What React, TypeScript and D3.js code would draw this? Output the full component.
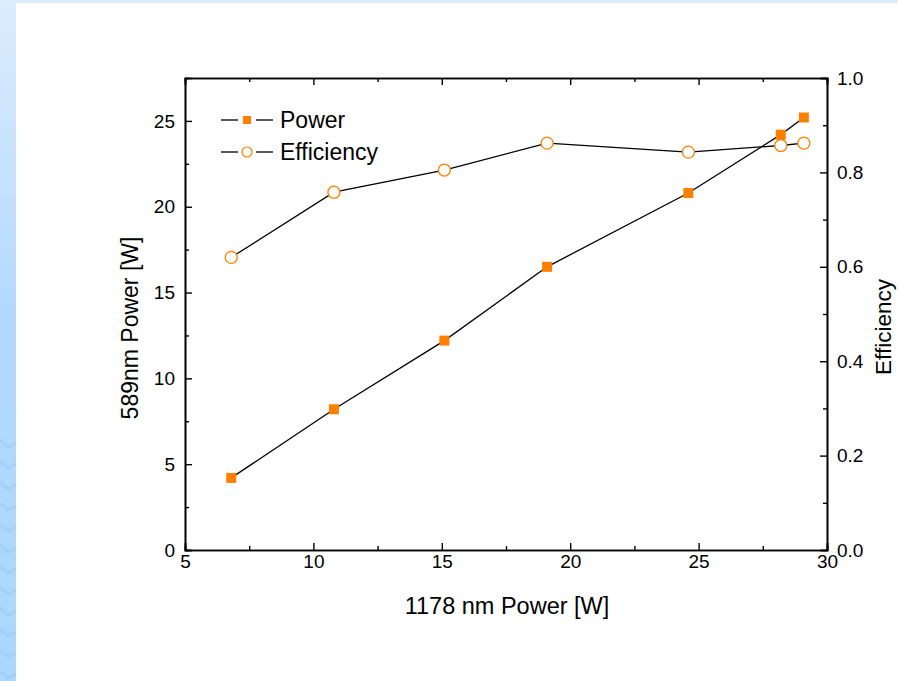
import React, { useRef, useEffect } from 'react';
import * as d3 from 'd3';

const WIDTH = 898;
const HEIGHT = 681;
const FONT = 'Arial, "Liberation Sans", Helvetica, sans-serif';
const ORANGE = '#ff8000';

// 1178 nm pump power [W]
const inputPower = [6.8, 10.8, 15.1, 19.1, 24.6, 28.2, 29.1];
// 589 nm output power [W]
const outputPower = [4.2, 8.2, 12.2, 16.5, 20.8, 24.2, 25.2];
// conversion efficiency
const efficiency = [0.62, 0.758, 0.805, 0.862, 0.843, 0.857, 0.862];

const xMajor = [5, 10, 15, 20, 25, 30];
const xMinor = [7.5, 12.5, 17.5, 22.5, 27.5];
const yMajor = [0, 5, 10, 15, 20, 25];
const yMinor = [2.5, 7.5, 12.5, 17.5, 22.5];
const effMajor = [0, 0.2, 0.4, 0.6, 0.8, 1.0];
const effMinor = [0.1, 0.3, 0.5, 0.7, 0.9];

const margin = { left: 185, right: WIDTH - 827, top: 78, bottom: HEIGHT - 550 };

const App: React.FC = () => {
  const svgRef = useRef<SVGSVGElement>(null);

  useEffect(() => {
    if (!svgRef.current) return;
    const svg = d3.select(svgRef.current);
    svg.selectAll('*').remove();

    const x0 = margin.left;
    const x1 = WIDTH - margin.right;
    const y0 = HEIGHT - margin.bottom;
    const y1 = margin.top;

    const x = d3.scaleLinear().domain([5, 30]).range([x0, x1]);
    const y = d3.scaleLinear().domain([0, 27.5]).range([y0, y1]);
    const yE = d3.scaleLinear().domain([0, 1]).range([y0, y1]);

    // slide background frame
    const defs = svg.append('defs');
    const grad = defs
      .append('linearGradient')
      .attr('id', 'strip')
      .attr('x1', 0)
      .attr('y1', 0)
      .attr('x2', 0)
      .attr('y2', 1);
    grad.append('stop').attr('offset', '0%').attr('stop-color', '#dcecfd');
    grad.append('stop').attr('offset', '45%').attr('stop-color', '#b4d9fd');
    grad.append('stop').attr('offset', '100%').attr('stop-color', '#acd6fe');

    svg.append('rect').attr('width', WIDTH).attr('height', HEIGHT).attr('fill', '#fff');
    svg.append('rect').attr('width', WIDTH).attr('height', 3).attr('fill', '#dcecfd');
    svg.append('rect').attr('width', 16).attr('height', HEIGHT).attr('fill', 'url(#strip)');

    // faint chevron texture in the lower part of the strip
    const chev = svg.append('g').attr('stroke', '#8fbde6').attr('stroke-opacity', 0.3).attr('fill', 'none');
    for (let yy = 440; yy < HEIGHT; yy += 21) {
      chev
        .append('path')
        .attr('d', `M0,${yy} L8,${yy + 7} L16,${yy + 3}`)
        .attr('stroke-width', 3);
    }

    const g = svg.append('g');

    const styleAxis = (sel: d3.Selection<SVGGElement, unknown, null, undefined>) => {
      sel.select('.domain').attr('stroke', '#000').attr('stroke-width', 1.6);
      sel.selectAll('.tick line').attr('stroke', '#000').attr('stroke-width', 1.4);
      sel
        .selectAll('.tick text')
        .attr('fill', '#000')
        .attr('font-size', '19px')
        .attr('font-family', FONT);
      sel.attr('font-family', FONT);
    };

    // bottom
    g.append('g')
      .attr('transform', `translate(0,${y0})`)
      .call(d3.axisBottom(x).tickValues(xMinor).tickSize(-4).tickFormat(() => ''))
      .call(styleAxis);
    g.append('g')
      .attr('transform', `translate(0,${y0})`)
      .call(d3.axisBottom(x).tickValues(xMajor).tickSize(-7).tickPadding(5).tickFormat(d3.format('d')))
      .call(styleAxis);
    // top
    g.append('g')
      .attr('transform', `translate(0,${y1})`)
      .call(d3.axisTop(x).tickValues(xMinor).tickSize(-4).tickFormat(() => ''))
      .call(styleAxis);
    g.append('g')
      .attr('transform', `translate(0,${y1})`)
      .call(d3.axisTop(x).tickValues(xMajor).tickSize(-7).tickFormat(() => ''))
      .call(styleAxis);
    // left
    g.append('g')
      .attr('transform', `translate(${x0},0)`)
      .call(d3.axisLeft(y).tickValues(yMinor).tickSize(-4).tickFormat(() => ''))
      .call(styleAxis);
    g.append('g')
      .attr('transform', `translate(${x0},0)`)
      .call(d3.axisLeft(y).tickValues(yMajor).tickSize(-7).tickPadding(10).tickFormat(d3.format('d')))
      .call(styleAxis);
    // right
    g.append('g')
      .attr('transform', `translate(${x1},0)`)
      .call(d3.axisRight(yE).tickValues(effMinor).tickSize(-4).tickFormat(() => ''))
      .call(styleAxis);
    g.append('g')
      .attr('transform', `translate(${x1},0)`)
      .call(d3.axisRight(yE).tickValues(effMajor).tickSize(-7).tickPadding(10).tickFormat(d3.format('.1f')))
      .call(styleAxis);

    // axis titles
    g.append('text')
      .attr('x', (x0 + x1) / 2 + 1)
      .attr('y', 614)
      .attr('text-anchor', 'middle')
      .attr('font-size', '23.5px')
      .attr('font-family', FONT)
      .text('1178 nm Power [W]');
    g.append('text')
      .attr('transform', 'translate(138,328) rotate(-90)')
      .attr('text-anchor', 'middle')
      .attr('font-size', '23px')
      .attr('font-family', FONT)
      .text('589nm Power [W]');
    g.append('text')
      .attr('transform', 'translate(891,327) rotate(-90)')
      .attr('text-anchor', 'middle')
      .attr('font-size', '22.5px')
      .attr('font-family', FONT)
      .text('Efficiency');

    // lines
    const powerPts = inputPower.map((v, i) => [x(v), y(outputPower[i])] as [number, number]);
    const effPts = inputPower.map((v, i) => [x(v), yE(efficiency[i])] as [number, number]);
    const line = d3.line();

    g.append('path').attr('d', line(powerPts) ?? '').attr('fill', 'none').attr('stroke', '#000').attr('stroke-width', 1.3);
    g.append('path').attr('d', line(effPts) ?? '').attr('fill', 'none').attr('stroke', '#000').attr('stroke-width', 1.3);

    g.selectAll('rect.pw')
      .data(powerPts)
      .join('rect')
      .attr('class', 'pw')
      .attr('x', (d) => d[0] - 5)
      .attr('y', (d) => d[1] - 5)
      .attr('width', 10)
      .attr('height', 10)
      .attr('fill', ORANGE);

    g.selectAll('circle.ef')
      .data(effPts)
      .join('circle')
      .attr('class', 'ef')
      .attr('cx', (d) => d[0])
      .attr('cy', (d) => d[1])
      .attr('r', 6)
      .attr('fill', '#fff')
      .attr('stroke', ORANGE)
      .attr('stroke-width', 1.3);

    // legend
    const legend = g.append('g');
    const rows = [
      { label: 'Power', y: 120, kind: 'square' },
      { label: 'Efficiency', y: 152, kind: 'circle' },
    ];
    rows.forEach((r) => {
      legend.append('line').attr('x1', 221).attr('x2', 238).attr('y1', r.y).attr('y2', r.y).attr('stroke', '#000').attr('stroke-width', 1.3);
      legend.append('line').attr('x1', 256).attr('x2', 273).attr('y1', r.y).attr('y2', r.y).attr('stroke', '#000').attr('stroke-width', 1.3);
      if (r.kind === 'square') {
        legend.append('rect').attr('x', 243).attr('y', r.y - 4).attr('width', 8).attr('height', 8).attr('fill', ORANGE);
      } else {
        legend
          .append('circle')
          .attr('cx', 247)
          .attr('cy', r.y)
          .attr('r', 5)
          .attr('fill', '#fff')
          .attr('stroke', ORANGE)
          .attr('stroke-width', 1.2);
      }
      legend
        .append('text')
        .attr('x', 280)
        .attr('y', r.y + 8)
        .attr('font-size', '23px')
        .attr('font-family', FONT)
        .text(r.label);
    });
  }, []);

  return (
    <svg
      ref={svgRef}
      width={WIDTH}
      height={HEIGHT}
      style={{ position: 'absolute', left: 0, top: 0, display: 'block' }}
    />
  );
};

export default App;
